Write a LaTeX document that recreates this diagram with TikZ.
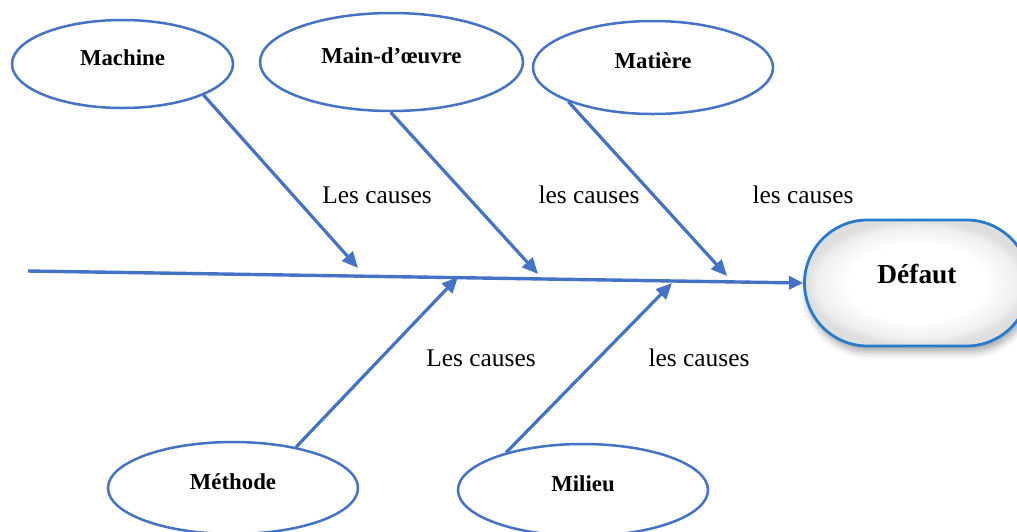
\documentclass[tikz,border=0pt]{standalone}
\usepackage{fontspec}
\setmainfont{Liberation Serif}
\usetikzlibrary{shapes.geometric,shapes.misc,arrows.meta,shadows.blur}

\definecolor{branch}{RGB}{68,114,196}
\definecolor{effectline}{RGB}{38,124,202}

% soft fill: white in the middle, faint grey towards the rim
\pgfdeclareradialshading{softfill}{\pgfpoint{0bp}{0bp}}{%
  color(0bp)=(white); color(15bp)=(white); color(22bp)=(black!6);
  color(25bp)=(black!13); color(50bp)=(black!13)}

\tikzset{
  cause/.style={ellipse, draw=branch, line width=1.25pt, fill=white, inner sep=0pt,
    font=\fontsize{11.4}{13}\selectfont\bfseries, text height=7.5pt, text depth=6.5pt},
  bone/.style={draw=branch, line width=1.6pt, -{Triangle[length=8pt,width=7pt]}},
  spine/.style={draw=branch, line width=1.7pt, -{Triangle[length=7pt,width=6.5pt]}},
  causetext/.style={font=\fontsize{12.7}{14}\selectfont, inner sep=0pt},
  effect/.style={rounded rectangle, draw=effectline, line width=1.4pt,
    shading=softfill,
    blur shadow={shadow xshift=1pt, shadow yshift=-3pt, shadow blur radius=3.5pt, shadow opacity=35},
    minimum width=112.5pt, minimum height=63pt, inner sep=0pt,
    font=\fontsize{13.7}{15}\selectfont\bfseries, text height=9pt, text depth=9pt}
}

\begin{document}
\begin{tikzpicture}[x=0.5pt, y=-0.5pt]
\useasboundingbox (0,0) rectangle (1017,531);

% effect box
\node[effect] (def) at (917,283) {Défaut};

% main spine
\coordinate (tail) at (28,271);
\draw[spine] (tail) -- (def.west);

% cause categories
\node[cause, minimum width=110.5pt, minimum height=44pt] (mach) at (122.5,64) {Machine};
\node[cause, minimum width=131.5pt, minimum height=49pt] (main) at (391.5,62) {Main-d’œuvre};
\node[cause, minimum width=120pt, minimum height=46.5pt] (mat) at (653,67.5) {Matière};
\node[cause, minimum width=125pt, minimum height=46pt] (meth) at (233,488) {Méthode};
\node[cause, minimum width=125pt, minimum height=46pt] (mil) at (583,490) {Milieu};

% arrow tips on the spine
\coordinate (t1) at (358,268);
\coordinate (t2) at (538,274);
\coordinate (t3) at (727,276);
\coordinate (t4) at (458,277);
\coordinate (t5) at (672,283);

\draw[bone] (mach.-21.5) -- (t1);
\draw[bone] (main.-91) -- (t2);
\draw[bone] (mat.-158) -- (t3);
\draw[bone] (meth.33) -- (t4);
\draw[bone] (mil.154) -- (t5);

% branch labels
\node[causetext] (l1) at (377,195) {Les causes};
\node[causetext] (l2) at (589,195) {les causes};
\node[causetext] (l3) at (803,195) {les causes};
\node[causetext] (l4) at (481,358) {Les causes};
\node[causetext] (l5) at (699,358) {les causes};
\end{tikzpicture}
\end{document}
